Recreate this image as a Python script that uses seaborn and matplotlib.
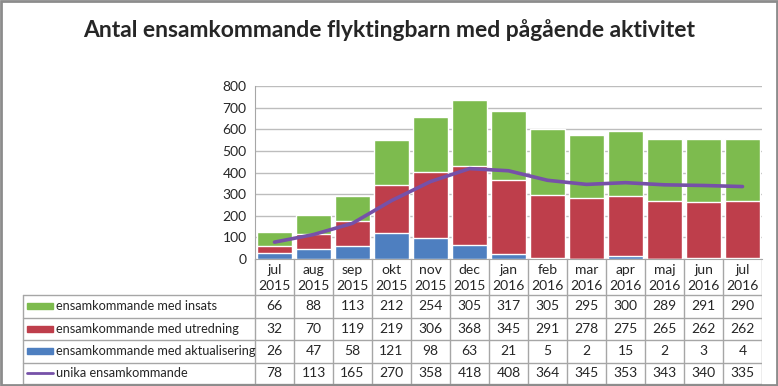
import numpy as np
import pandas as pd
import seaborn as sns
import matplotlib.pyplot as plt
from matplotlib.patches import Rectangle

months = ["jul\n2015", "aug\n2015", "sep\n2015", "okt\n2015", "nov\n2015", "dec\n2015",
          "jan\n2016", "feb\n2016", "mar\n2016", "apr\n2016", "maj\n2016", "jun\n2016", "jul\n2016"]
insats = [66, 88, 113, 212, 254, 305, 317, 305, 295, 300, 289, 291, 290]
utredning = [32, 70, 119, 219, 306, 368, 345, 291, 278, 275, 265, 262, 262]
aktualisering = [26, 47, 58, 121, 98, 63, 21, 5, 2, 15, 2, 3, 4]
unika = [78, 113, 165, 270, 358, 418, 408, 364, 345, 353, 343, 340, 335]

series_names = ["ensamkommande med insats", "ensamkommande med utredning",
                "ensamkommande med aktualisering", "unika ensamkommande"]
colors = ["#7DBB4E", "#BE3E4B", "#4E7FC0", "#7651A8"]

sns.set_style("white")
plt.rcParams['font.family'] = ['Lato', 'DejaVu Sans']

W, H = 778, 386
fig = plt.figure(figsize=(W / 100, H / 100), dpi=100)

def px_box(x0, y0, x1, y1):
    return [x0 / W, 1 - y1 / H, (x1 - x0) / W, (y1 - y0) / H]

# plot area
AX_L, AX_R, AX_T, AX_B = 255, 762, 86, 259
ax = fig.add_axes(px_box(AX_L, AX_T, AX_R, AX_B))

df = pd.DataFrame({"month": months, "insats": insats, "utredning": utredning,
                   "aktualisering": aktualisering, "unika": unika})
df["top"] = df["insats"] + df["utredning"] + df["aktualisering"]
df["mid"] = df["utredning"] + df["aktualisering"]

# stacked bars: draw cumulative totals from back to front
sns.barplot(data=df, x="month", y="top", color=colors[0], saturation=1, width=0.9, ax=ax)
sns.barplot(data=df, x="month", y="mid", color=colors[1], saturation=1, width=0.9, ax=ax)
sns.barplot(data=df, x="month", y="aktualisering", color=colors[2], saturation=1, width=0.9, ax=ax)
ax.plot(np.arange(len(months)), df["unika"], color=colors[3], lw=2.6, zorder=5)

ax.set_ylim(0, 800)
ax.set_xlim(-0.5, len(months) - 0.5)
ax.set_yticks(range(0, 801, 100))
ax.yaxis.grid(True, color="#BDBDBD", lw=1)
ax.set_axisbelow(True)
ax.tick_params(axis="y", labelsize=10, length=0, pad=6)
ax.set_xticks([])
ax.set_xlabel("")
ax.set_ylabel("")
for s in ["top", "right"]:
    ax.spines[s].set_visible(False)
ax.spines["left"].set_color("#A6A6A6")
ax.spines["bottom"].set_color("#A6A6A6")

# data table below the plot
TB_L, TB_B = 22, 385
tax = fig.add_axes(px_box(TB_L, AX_B, AX_R, TB_B))
tax.set_xlim(TB_L, AX_R)
tax.set_ylim(TB_B, AX_B)
tax.axis("off")

col_w = (AX_R - AX_L) / len(months)
row_edges = [295, 317.5, 340, 362.5, TB_B - 1]
line_kw = dict(color="#A6A6A6", lw=1)

for k in range(len(months) + 1):
    x = AX_L + k * col_w
    tax.plot([x, x], [AX_B, row_edges[-1]], **line_kw)
tax.plot([TB_L + 1, TB_L + 1], [row_edges[0], row_edges[-1]], **line_kw)
for y in row_edges:
    tax.plot([TB_L + 1, AX_R], [y, y], **line_kw)

for i, m in enumerate(months):
    cx = AX_L + (i + 0.5) * col_w
    tax.text(cx, (AX_B + row_edges[0]) / 2 + 1, m, ha="center", va="center",
             fontsize=10, linespacing=1.3)

values = [insats, utredning, aktualisering, unika]
for r, (name, vals) in enumerate(zip(series_names, values)):
    yc = (row_edges[r] + row_edges[r + 1]) / 2
    if r < 3:
        tax.add_patch(Rectangle((27, yc - 3), 26, 6, color=colors[r]))
    else:
        tax.plot([27, 53], [yc, yc], color=colors[3], lw=2)
    tax.text(56, yc, name, ha="left", va="center", fontsize=9.2)
    for i, v in enumerate(vals):
        tax.text(AX_L + (i + 0.5) * col_w, yc, str(v), ha="center", va="center", fontsize=10)

fig.suptitle("Antal ensamkommande flyktingbarn med pågående aktivitet",
             x=0.5, y=1 - 30 / H, va="center", fontsize=16.5, fontweight="bold")

# outer frame
fig.patches.append(Rectangle((0.0015, 0.003), 0.997, 0.994, transform=fig.transFigure,
                             fill=False, edgecolor="#8C8C8C", lw=2))

fig.savefig("out.png", dpi=100, facecolor="white")
